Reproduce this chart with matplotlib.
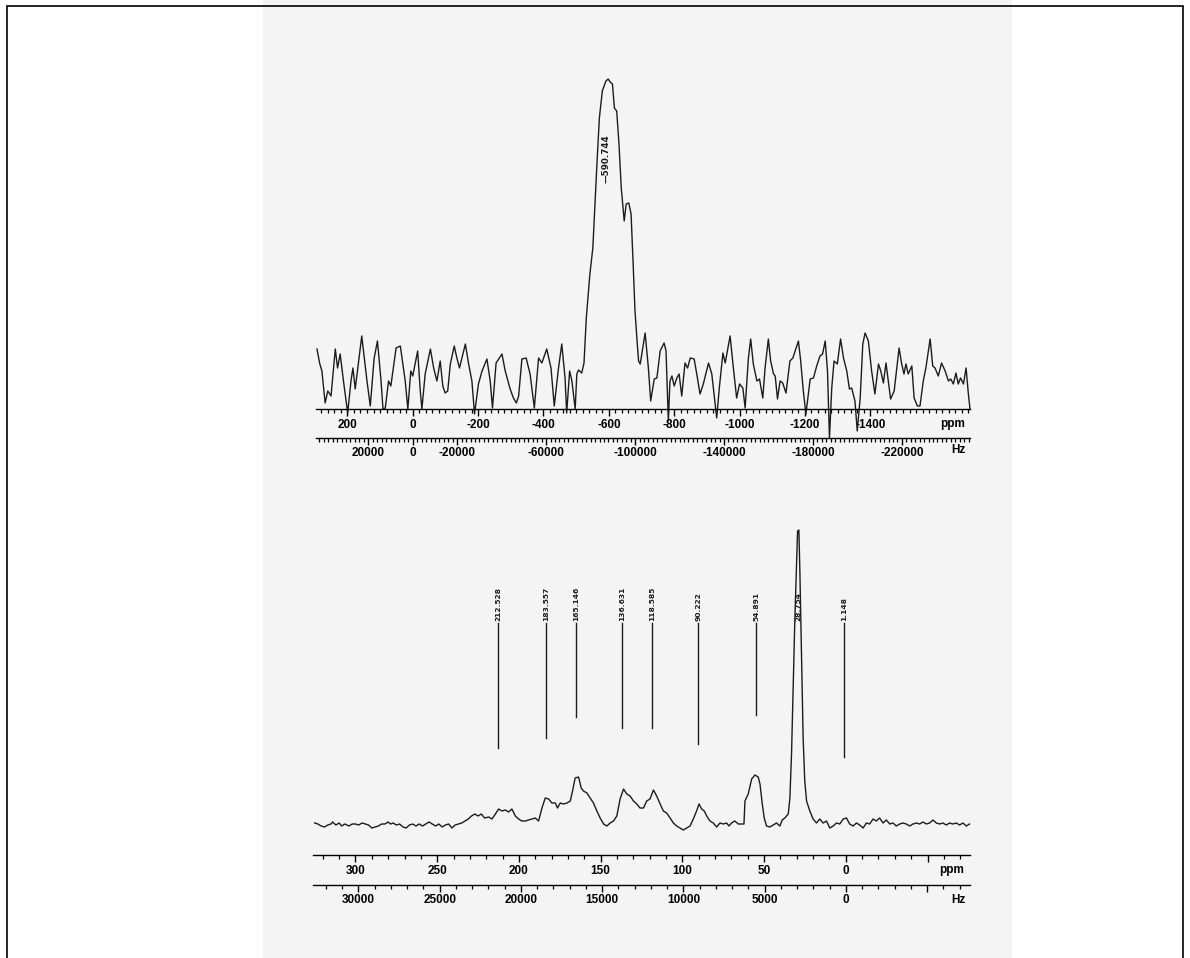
import matplotlib
matplotlib.use("Agg")
import matplotlib.pyplot as plt
from matplotlib.patches import Rectangle
from matplotlib.ticker import MultipleLocator

W, H = 1190, 958

# ---------------- top spectrum (ppm, intensity) ----------------
top_ppm = [293, 285, 278, 268, 260, 250, 237, 230, 222, 212, 199, 189, 183, 176, 156, 140, 130, 118, 108, 97,
           91, 84, 74, 67, 51, 38, 23, 15, 6, 0, -15, -23, -28, -38, -54, -64, -74, -84, -92, -99,
           -107, -115, -127, -135, -143, -161, -171, -181, -189, -201, -212, -227, -237, -244, -249, -255, -263, -273, -283, -298,
           -308, -317, -324, -334, -347, -359, -372, -385, -395, -410, -423, -433, -446, -456, -466, -471, -480, -487, -497, -502,
           -507, -517, -524, -531, -542, -551, -558, -564, -571, -580, -591, -598, -604, -611, -617, -624, -631, -638, -647, -653,
           -661, -668, -674, -680, -687, -691, -696, -711, -721, -728, -739, -747, -757, -769, -775, -782, -787, -793, -800, -808,
           -815, -823, -833, -841, -849, -861, -869, -879, -889, -905, -915, -923, -930, -938, -949, -956, -971, -981, -991, -1000,
           -1010, -1017, -1027, -1034, -1042, -1053, -1061, -1071, -1078, -1088, -1095, -1104, -1109, -1116, -1124, -1132, -1142, -1154, -1163, -1170,
           -1180, -1187, -1195, -1203, -1211, -1216, -1226, -1236, -1246, -1254, -1262, -1269, -1275, -1282, -1289, -1299, -1309, -1318, -1328, -1336,
           -1343, -1353, -1360, -1369, -1377, -1384, -1394, -1404, -1414, -1425, -1432, -1440, -1448, -1455, -1462, -1473, -1488, -1496, -1503, -1509,
           -1516, -1527, -1534, -1544, -1552, -1562, -1570, -1583, -1591, -1598, -1608, -1618, -1629, -1639, -1646, -1654, -1662, -1669, -1676, -1685,
           -1693, -1700, -1705]
top_int = [60, 46, 38, 6, 18, 13, 60, 41, 55, 28, -4, 28, 41, 20, 73, 28, 3, 51, 68, 28,
           0, 1, 28, 23, 61, 63, 28, 0, 38, 33, 58, 18, 0, 35, 60, 41, 28, 48, 23, 16,
           18, 45, 63, 51, 41, 65, 45, 28, -5, 25, 38, 50, 28, 1, 21, 46, 50, 55, 38, 20,
           11, 6, 13, 50, 51, 35, 1, 51, 46, 60, 41, 3, 41, 65, 31, -4, 38, 28, 0, 35,
           39, 36, 46, 91, 135, 161, 208, 248, 291, 318, 328, 330, 327, 325, 301, 298, 265, 221, 188, 205,
           206, 195, 148, 98, 65, 48, 45, 76, 41, 8, 30, 31, 58, 66, 58, -12, 28, 33, 23, 31,
           35, 13, 46, 41, 51, 50, 35, 15, 25, 46, 35, 11, -9, 21, 56, 46, 73, 41, 11, 25,
           21, 1, 51, 70, 45, 28, 30, 11, 41, 70, 48, 35, 33, 10, 28, 26, 16, 48, 51, 58,
           68, 48, 18, -5, 16, 30, 31, 43, 53, 55, 68, 38, -29, 21, 48, 45, 70, 51, 38, 20,
           21, 8, -22, 11, 65, 76, 68, 38, 15, 45, 38, 26, 46, 28, 10, 18, 61, 45, 35, 45,
           35, 43, 11, 3, 3, 28, 41, 70, 43, 41, 33, 46, 38, 28, 30, 25, 36, 25, 31, 25,
           41, 15, 0]
top_peak_ppm = [-590.744]
top_peak_label = ["\u2014590.744"]
top_ppm_ticks = [200, 0, -200, -400, -600, -800, -1000, -1200, -1400]
top_ppm_labels = ["200", "0", "-200", "-400", "-600", "-800", "-1000", "-1200", "-1400"]
top_hz_ticks = [20000, 0, -20000, -60000, -100000, -140000, -180000, -220000]
top_hz_labels = ["20000", "0", "-20000", "-60000", "-100000", "-140000", "-180000", "-220000"]
top_hz_per_ppm = 147.0

# ---------------- bottom spectrum (ppm, intensity) ----------------
bot_ppm = [325, 323, 321, 319, 317, 315, 314, 312, 310, 308.5, 306.5, 304, 302, 300, 298, 296, 294, 292, 290, 288,
           286, 284, 282, 280, 278.6, 277, 275, 273, 271, 269, 267, 265, 263, 261, 259, 257, 255, 253, 251, 249,
           247, 245, 243, 241, 239, 237, 235, 233, 231, 229, 227, 225, 223, 221, 218.5, 216.5, 214.4, 212.4, 210.4, 208.3,
           206.3, 204.3, 202.2, 200.2, 198.2, 196.1, 194.1, 192, 190, 188, 185.9, 183.9, 181.8, 179.8, 177.7, 176.4, 174.7, 172.7, 170.6, 168.6,
           167.2, 165.6, 163.5, 161.9, 160.5, 158.4, 156.4, 154.4, 152.3, 150.3, 148.2, 146.2, 144.2, 142.1, 140.1, 138.1, 136, 134, 132, 129.9,
           127.9, 125.9, 123.8, 121.8, 119.8, 117.7, 115.7, 113.6, 111.6, 109.6, 107.5, 105.5, 103.5, 101.4, 99.4, 97.4, 95.3, 93.3, 91.3, 89.8,
           88.2, 86.6, 85.1, 83.1, 81.1, 79, 77, 75, 72.9, 71.5, 69.9, 67.9, 65.8, 63.8, 62.3, 61.7, 59.7, 57.6, 55.6, 53.6,
           52.5, 51.1, 49.9, 48.5, 46.4, 44.4, 42.4, 40.3, 38.9, 37.3, 35.2, 34.2, 33.2, 32.2, 31.2, 30.1, 29.5, 28.7, 28.1, 27.1,
           26.1, 25.1, 24, 22, 20, 17.9, 15.9, 13.9, 11.8, 9.8, 7.7, 5.7, 3.7, 1.6, -0.4, -2.4, -4.5, -6.5, -8.5, -10.6,
           -12.6, -14.6, -16.7, -18.7, -20.7, -22.8, -24.8, -26.9, -28.9, -30.9, -33, -35, -37, -39.1, -41.1, -43.1, -45.2, -47.2, -49.3, -51.3,
           -53.3, -55.4, -57.4, -59.4, -61.5, -63.5, -65.5, -67.6, -69.6, -71.7, -73.7, -75.7]
bot_int = [32, 31, 29, 28, 30, 31, 33, 30, 32, 29, 31, 29, 31, 31, 30, 32, 31, 30, 27, 28,
           29, 31, 31, 33, 31, 32, 30, 31, 28, 27, 30, 31, 29, 31, 29, 31, 33, 31, 29, 31,
           28, 30, 31, 27, 30, 31, 32, 34, 36, 39, 41, 39, 41, 37, 38, 36, 41, 46, 44, 45,
           43, 46, 39, 36, 34, 34, 35, 36, 37, 34, 47, 57, 56, 52, 52, 47, 52, 51, 52, 54,
           64, 77, 78, 67, 64, 62, 57, 52, 44, 37, 31, 29, 32, 34, 39, 56, 66, 61, 59, 54,
           51, 47, 47, 54, 56, 65, 59, 51, 44, 42, 37, 32, 29, 27, 25, 27, 29, 36, 44, 51,
           46, 44, 39, 34, 32, 28, 32, 31, 32, 29, 32, 34, 31, 31, 31, 54, 61, 76, 80, 78,
           71, 51, 37, 29, 28, 30, 32, 29, 35, 37, 41, 57, 101, 167, 234, 294, 324, 325, 284, 201,
           117, 74, 54, 44, 36, 32, 36, 32, 34, 27, 29, 32, 31, 36, 37, 31, 29, 32, 30, 27,
           32, 31, 36, 34, 37, 32, 35, 31, 32, 29, 31, 32, 31, 29, 31, 32, 31, 33, 31, 32,
           35, 32, 31, 32, 30, 32, 31, 32, 30, 32, 29, 31]
bot_peak_ppm = [212.528, 183.557, 165.146, 136.631, 118.585, 90.222, 54.891, 28.754, 1.148]
bot_peak_label = ["212.528", "183.557", "165.146", "136.631", "118.585", "90.222", "54.891", "28.754", "1.148"]
bot_peak_line_end = [107, 117, 138, 127, 127, 111, 140, None, 98]
bot_ppm_ticks = [300, 250, 200, 150, 100, 50, 0, -50]
bot_ppm_labels = ["300", "250", "200", "150", "100", "50", "0", ""]
bot_hz_ticks = [30000, 25000, 20000, 15000, 10000, 5000, 0, -5000]
bot_hz_labels = ["30000", "25000", "20000", "15000", "10000", "5000", "0", ""]
bot_hz_per_ppm = 100.6

TICKFONT = {"family": ["Liberation Sans", "DejaVu Sans"], "weight": "bold", "size": 8.5}
LINE = "#1c1c1c"

fig = plt.figure(figsize=(W / 100, H / 100), dpi=100)
fig.patch.set_facecolor("white")
fig.add_artist(Rectangle((263 / W, 0), (1012 - 263) / W, 1, transform=fig.transFigure,
                         facecolor="#f4f4f4", edgecolor="none", zorder=-10))
fig.add_artist(Rectangle((7 / W, -0.02), (1183 - 7) / W, 1 - 6 / H + 0.02, transform=fig.transFigure,
                         fill=False, edgecolor="black", linewidth=1.2, zorder=10))


def px_axes(left, right, top, bottom):
    return fig.add_axes([left / W, 1 - bottom / H, (right - left) / W, (bottom - top) / H])


def style(ax, sec, ppm_ticks, ppm_labels, hz_ticks, hz_labels, ppm_minor, hz_minor):
    ax.patch.set_alpha(0)
    for s in ("top", "left", "right"):
        ax.spines[s].set_visible(False)
    ax.spines["bottom"].set_linewidth(1.0)
    ax.set_yticks([])
    ax.set_xticks(ppm_ticks, ppm_labels)
    ax.xaxis.set_minor_locator(MultipleLocator(ppm_minor))
    ax.tick_params(axis="x", which="major", direction="out", length=5, width=1.0, pad=2.5)
    ax.tick_params(axis="x", which="minor", direction="out", length=3, width=0.9)
    sec.set_xticks(hz_ticks, hz_labels)
    sec.xaxis.set_minor_locator(MultipleLocator(hz_minor))
    sec.tick_params(axis="x", which="major", direction="out", length=5, width=1.0, pad=1.5)
    sec.tick_params(axis="x", which="minor", direction="out", length=3, width=0.9)
    sec.spines["bottom"].set_linewidth(1.0)
    for lab in ax.get_xticklabels() + sec.get_xticklabels():
        lab.set_fontproperties(matplotlib.font_manager.FontProperties(**TICKFONT))


# ---------- top panel ----------
ax1 = px_axes(316, 970, 60, 409)
ax1.set_xlim(296, -1705)
ax1.set_ylim(0, 349)
ax1.plot(top_ppm, top_int, color=LINE, lw=1.0, clip_on=False)
sec1 = ax1.secondary_xaxis(-29 / 349, functions=(lambda p: p * top_hz_per_ppm, lambda h: h / top_hz_per_ppm))
style(ax1, sec1, top_ppm_ticks, top_ppm_labels, top_hz_ticks, top_hz_labels, 20, 2000)
for p, lab in zip(top_peak_ppm, top_peak_label):
    ax1.text(p, 226, lab, rotation=90, ha="center", va="bottom",
             fontsize=6.3, fontweight="bold", family=["DejaVu Sans"], color=LINE)
ax1.text((953 - 316) / 654, (409 - 424) / 349, "ppm", transform=ax1.transAxes,
         ha="center", va="center", **TICKFONT)
ax1.text((958 - 316) / 654, (409 - 450) / 349, "Hz", transform=ax1.transAxes,
         ha="center", va="center", **TICKFONT)

# ---------- bottom panel ----------
ax2 = px_axes(313, 970, 500, 855)
ax2.set_xlim(326, -76)
ax2.set_ylim(0, 355)
ax2.plot(bot_ppm, bot_int, color=LINE, lw=1.0, clip_on=False)
sec2 = ax2.secondary_xaxis(-30 / 355, functions=(lambda p: p * bot_hz_per_ppm, lambda h: h / bot_hz_per_ppm))
style(ax2, sec2, bot_ppm_ticks, bot_ppm_labels, bot_hz_ticks, bot_hz_labels, 10, 1000)
for p, lab, end in zip(bot_peak_ppm, bot_peak_label, bot_peak_line_end):
    if end is not None:
        ax2.plot([p, p], [232, end], color=LINE, lw=1.0)
    ax2.text(p, 234, lab, rotation=90, ha="center", va="bottom",
             fontsize=5.4, fontweight="bold", family=["DejaVu Sans"], color=LINE)
ax2.text((952 - 313) / 657, (855 - 870) / 355, "ppm", transform=ax2.transAxes,
         ha="center", va="center", **TICKFONT)
ax2.text((958 - 313) / 657, (855 - 900) / 355, "Hz", transform=ax2.transAxes,
         ha="center", va="center", **TICKFONT)

fig.savefig("out.png", dpi=100)
